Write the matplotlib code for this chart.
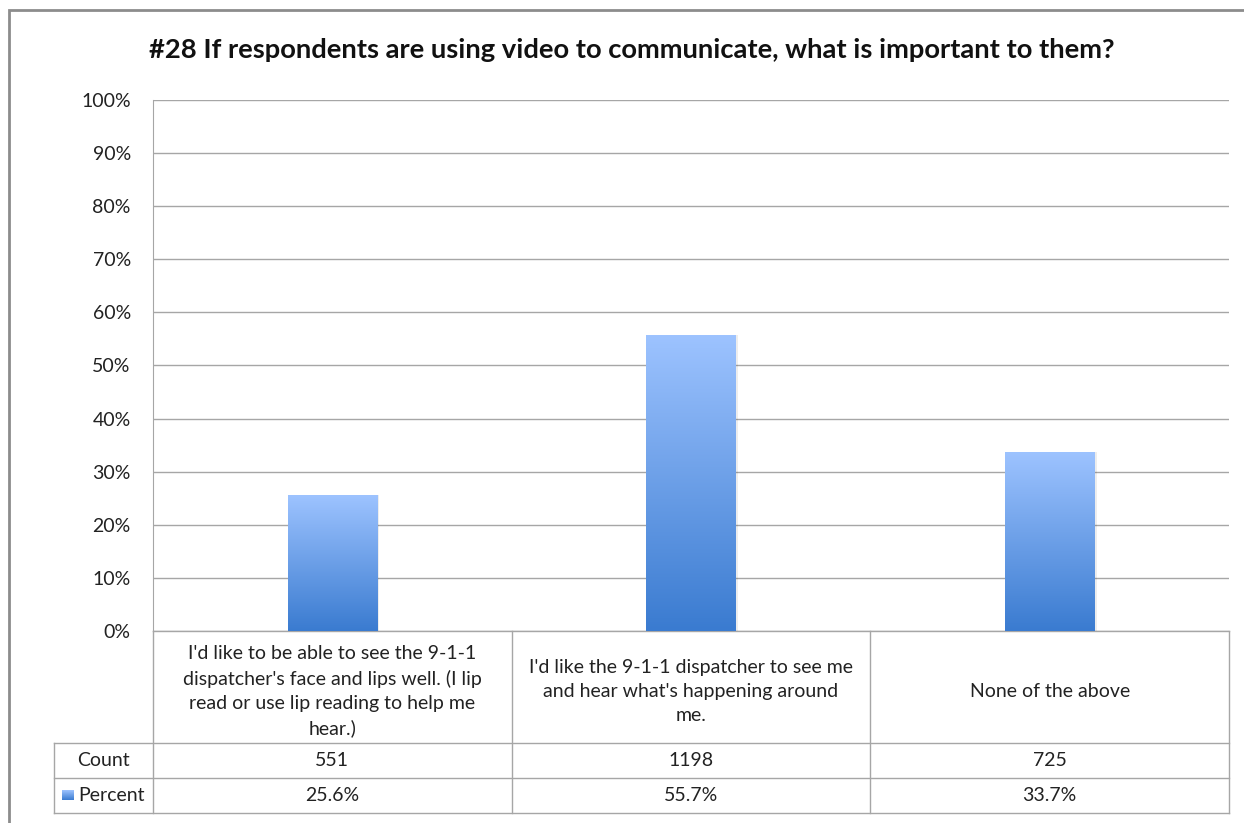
import numpy as np
import matplotlib
matplotlib.use("Agg")
import matplotlib.pyplot as plt
from matplotlib.colors import LinearSegmentedColormap
from matplotlib.patches import Rectangle

# ── data ──
categories = [
    "I'd like to be able to see the 9-1-1\ndispatcher's face and lips well. (I lip\nread or use lip reading to help me\nhear.)",
    "I'd like the 9-1-1 dispatcher to see me\nand hear what's happening around\nme.",
    "None of the above",
]
counts = [551, 1198, 725]
percents = [25.6, 55.7, 33.7]
yticks = list(range(0, 101, 10))

title = "#28 If respondents are using video to communicate, what is important to them?"

plt.rcParams["font.family"] = ["Lato", "DejaVu Sans"]
GRID = "#a6a6a6"
TXT = "#222222"
FS = 14

W, H = 1244, 823
fig = plt.figure(figsize=(W / 100, H / 100), dpi=100)

# outer chart frame
fig.patches.append(Rectangle((9 / W, -0.05), 1.1, 1 - 10 / H + 0.05,
                             transform=fig.transFigure, fill=False,
                             edgecolor="#8c8c8c", linewidth=2.0))

ax = fig.add_axes([153 / W, 1 - 631 / H, 1076 / W, 531 / H])
ax.set_xlim(-0.5, len(categories) - 0.5)
ax.set_ylim(0, 100)
ax.set_yticks(yticks)
ax.set_yticklabels([f"{t}%" for t in yticks], fontsize=FS, color=TXT)
ax.tick_params(axis="y", length=0, pad=16)
ax.set_xticks([])
ax.grid(axis="y", color=GRID, linewidth=1.0)
ax.set_axisbelow(True)
for s in ["top", "right", "bottom"]:
    ax.spines[s].set_visible(False)
ax.spines["left"].set_color(GRID)

# gradient bars
cmap = LinearSegmentedColormap.from_list("barblue", ["#3a7bd0", "#9dc3ff"])
grad = np.linspace(0, 1, 256).reshape(-1, 1)
bars = ax.bar(range(len(percents)), percents, width=0.25, color="none", zorder=3)
for b in bars:
    x0, w, h = b.get_x(), b.get_width(), b.get_height()
    shadow = Rectangle((x0 + 0.003, 0), w + 0.003, h, facecolor="#000000",
                       alpha=0.07, edgecolor="none", zorder=2)
    ax.add_patch(shadow)
    im = ax.imshow(grad, extent=(x0, x0 + w, 0, h), origin="lower", cmap=cmap,
                   aspect="auto", zorder=3)
    im.set_clip_path(b)
ax.set_xlim(-0.5, len(categories) - 0.5)
ax.set_ylim(0, 100)

# data table under the plot
tr = ax.get_xaxis_transform()
y_rows = [0, -112 / 531, -147 / 531, -182 / 531]
x_left = -0.5 + (54 - 153) / (1076 / 3)
n = len(categories)
line_kw = dict(color=GRID, linewidth=1.0, transform=tr, clip_on=False)

ax.plot([-0.5, n - 0.5], [y_rows[0]] * 2, **line_kw)
for y in y_rows[1:]:
    ax.plot([x_left, n - 0.5], [y, y], **line_kw)
for xb in np.arange(-0.5, n, 1.0):
    ax.plot([xb, xb], [y_rows[0], y_rows[-1]], **line_kw)
ax.plot([x_left, x_left], [y_rows[1], y_rows[-1]], **line_kw)

txt_kw = dict(transform=tr, ha="center", va="center", fontsize=FS,
              color=TXT, clip_on=False)
for i, cat in enumerate(categories):
    ax.text(i, (y_rows[0] + y_rows[1]) / 2 - 0.008, cat, linespacing=1.5, **txt_kw)
    ax.text(i, (y_rows[1] + y_rows[2]) / 2, f"{counts[i]}", **txt_kw)
    ax.text(i, (y_rows[2] + y_rows[3]) / 2, f"{percents[i]:.1f}%", **txt_kw)

xl_mid = (x_left - 0.5) / 2
ax.text(xl_mid, (y_rows[1] + y_rows[2]) / 2, "Count", **txt_kw)
ax.text(xl_mid + 0.021, (y_rows[2] + y_rows[3]) / 2, "Percent", **txt_kw)

# legend key in the Percent row
ky = (y_rows[2] + y_rows[3]) / 2
key_x0 = x_left + 0.022
key = Rectangle((key_x0, ky - 0.009), 0.033, 0.018, transform=tr,
                facecolor="none", edgecolor="none", clip_on=False)
ax.add_patch(key)
kim = ax.imshow(grad, extent=(key_x0, key_x0 + 0.033, 0, 1), origin="lower",
                cmap=cmap, aspect="auto", transform=tr, clip_on=False)
kim.set_extent((key_x0, key_x0 + 0.033, ky - 0.009, ky + 0.009))
kim.set_clip_path(key)
ax.set_xlim(-0.5, n - 0.5)
ax.set_ylim(0, 100)

fig.text(632 / W, 1 - 50 / H, title, ha="center", va="center",
         fontsize=19.7, fontweight="bold", color="#111111")

fig.savefig("out.png", dpi=100)
